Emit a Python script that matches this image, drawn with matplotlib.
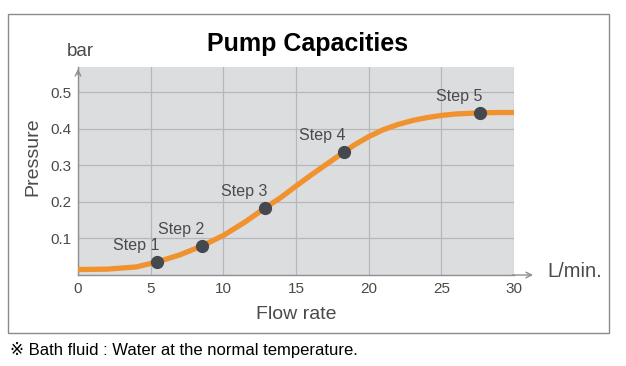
import matplotlib
matplotlib.use('Agg')
import matplotlib.pyplot as plt
from matplotlib.patches import Rectangle

# curve (flow rate L/min -> pressure bar)
flow = [0, 2, 4, 5.47, 7, 8.5, 10, 11.5, 12.9, 14, 15, 16, 17, 18.27,
        19, 20, 21, 22, 23, 24, 25, 26, 27.64, 29, 30]
pressure = [0.015, 0.016, 0.022, 0.036, 0.055, 0.079, 0.108, 0.145, 0.184,
            0.213, 0.243, 0.272, 0.300, 0.335, 0.355, 0.378, 0.397, 0.411,
            0.422, 0.430, 0.436, 0.440, 0.443, 0.444, 0.444]

# marked steps
step_labels = ['Step 1', 'Step 2', 'Step 3', 'Step 4', 'Step 5']
step_flow = [5.47, 8.5, 12.9, 18.27, 27.64]
step_pressure = [0.036, 0.079, 0.184, 0.335, 0.443]

x_ticks = [0, 5, 10, 15, 20, 25, 30]
y_ticks = [0.1, 0.2, 0.3, 0.4, 0.5]
y_tick_labels = ['0.1', '0.2', '0.3', '0.4', '0.5']

plt.rcParams['font.family'] = ['Liberation Sans', 'DejaVu Sans', 'Noto Sans CJK JP']

fig = plt.figure(figsize=(6.26, 3.66), dpi=100)
ax = fig.add_axes([0.1246, 0.2486, 0.6965, 0.568])
ax.set_facecolor('#dcdddf')

ax.plot(flow, pressure, color='#f0922e', lw=3.8, solid_capstyle='butt', zorder=3)
ax.plot(step_flow, step_pressure, 'o', color='#45484d', ms=8.5, zorder=4)
for lab, sx, sy in zip(step_labels, step_flow, step_pressure):
    ax.annotate(lab, (sx, sy), xytext=(-15, 12), textcoords='offset points',
                ha='center', va='center', fontsize=11.5, color='#4a4a4a')

ax.set_xlim(0, 30)
ax.set_ylim(0, 0.568)
ax.set_xticks(x_ticks)
ax.set_yticks(y_ticks)
ax.set_yticklabels(y_tick_labels)
ax.grid(True, color='#b4b7bc', lw=0.9)
ax.set_axisbelow(True)
ax.tick_params(length=0, labelsize=11, labelcolor='#4a4a4a', pad=5)

for s in ['top', 'right']:
    ax.spines[s].set_visible(False)
for s in ['left', 'bottom']:
    ax.spines[s].set_color('#8c8f93')
    ax.spines[s].set_linewidth(1.0)

# axis arrows
ax.annotate('', xy=(1.05, 0), xytext=(0.99, 0), xycoords='axes fraction',
            arrowprops=dict(arrowstyle='->', color='#8c8f93', lw=1.0), annotation_clip=False)
ax.annotate('', xy=(0, 1.005), xytext=(0, 0.95), xycoords='axes fraction',
            arrowprops=dict(arrowstyle='->', color='#8c8f93', lw=1.0), annotation_clip=False)

# axis titles
fig.text(0.474, 0.142, 'Flow rate', fontsize=14, color='#4a4a4a', ha='center', va='center')
fig.text(0.053, 0.571, 'Pressure', fontsize=14, color='#4a4a4a', ha='center', va='center',
         rotation=90)
fig.text(0.129, 0.858, 'bar', fontsize=13.5, color='#4a4a4a', ha='center', va='center')
fig.text(0.875, 0.257, 'L/min.', fontsize=14.5, color='#4a4a4a', ha='left', va='center')
fig.text(0.492, 0.88, 'Pump Capacities', fontsize=18, fontweight='bold',
         family=['Liberation Sans Narrow', 'Liberation Sans'], ha='center', va='center')
fig.text(0.016, 0.044, '\u203b Bath fluid : Water at the normal temperature.',
         fontsize=12, color='black', ha='left', va='center')

fig.patches.append(Rectangle((0.0128, 0.0902), 0.960, 0.8716, transform=fig.transFigure,
                             fill=False, edgecolor='#8a8a8a', lw=1.0))

fig.savefig('out.png', dpi=100)
